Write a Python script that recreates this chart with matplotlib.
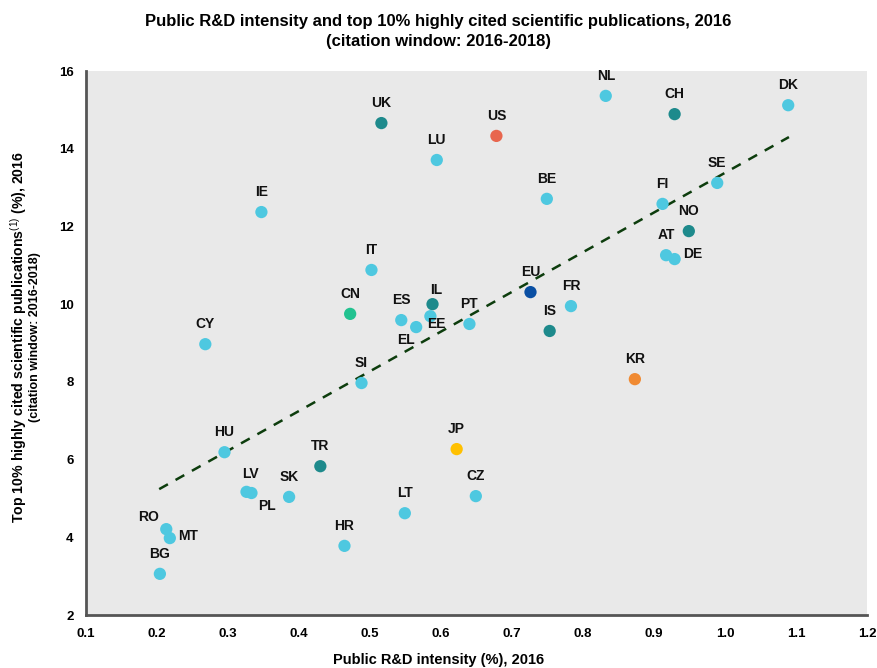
import numpy as np
import matplotlib
matplotlib.use('Agg')
import matplotlib.pyplot as plt

plt.rcParams['font.family'] = ['Liberation Sans', 'DejaVu Sans']
plt.rcParams['mathtext.fontset'] = 'custom'
plt.rcParams['mathtext.rm'] = 'Liberation Sans'

# country codes, public R&D intensity (%), top 10% cited pubs (%)
codes = ["NL", "CH", "DK", "UK", "US", "LU", "BE", "SE", "FI", "NO", "AT", "DE",
         "IE", "IT", "EU", "FR", "IS", "IL", "CN", "ES", "EE", "EL", "PT", "CY",
         "SI", "KR", "HU", "JP", "TR", "LV", "PL", "SK", "CZ", "LT", "HR", "RO",
         "MT", "BG"]
rd = [0.832, 0.929, 1.089, 0.516, 0.678, 0.594, 0.749, 0.989, 0.912, 0.949, 0.917, 0.929,
      0.347, 0.502, 0.726, 0.783, 0.753, 0.588, 0.472, 0.544, 0.585, 0.565, 0.640, 0.268,
      0.488, 0.873, 0.295, 0.622, 0.430, 0.326, 0.333, 0.386, 0.649, 0.549, 0.464, 0.213,
      0.218, 0.204]
top10 = [15.36, 14.89, 15.12, 14.66, 14.33, 13.71, 12.71, 13.12, 12.58, 11.88, 11.26, 11.16,
         12.37, 10.88, 10.31, 9.95, 9.31, 10.00, 9.75, 9.59, 9.69, 9.41, 9.49, 8.97,
         7.97, 8.07, 6.19, 6.27, 5.83, 5.17, 5.14, 5.04, 5.06, 4.62, 3.78, 4.21,
         3.98, 3.06]
group = ["eu", "oth", "eu", "oth", "us", "eu", "eu", "eu", "eu", "oth", "eu", "eu",
         "eu", "eu", "eu28", "eu", "oth", "oth", "cn", "eu", "eu", "eu", "eu", "eu",
         "eu", "kr", "eu", "jp", "oth", "eu", "eu", "eu", "eu", "eu", "eu", "eu",
         "eu", "eu"]

# trend line end points
trend_x = [0.203, 1.090]
trend_y = [5.24, 14.30]

colors = {"eu": "#4ec8e0", "oth": "#1e8a8c", "us": "#e8664e", "kr": "#f08a32",
          "jp": "#ffc000", "eu28": "#0a4fa3", "cn": "#22c290"}

# label offsets in pixels (default: centred above)
offsets = {"MT": (8, 2, 'left'), "PL": (15, -13, 'center'), "DE": (9, 5, 'left'),
           "EE": (6, -8, 'center'), "EL": (-10, -13, 'center'), "LV": (4, 18, 'center'),
           "RO": (-18, 12, 'center'), "IL": (4, 14, 'center')}

fig = plt.figure(figsize=(8.78, 6.68), dpi=100)
ax = fig.add_axes([0.098, 0.0793, 0.8895, 0.8144])
ax.set_facecolor('#e9e9e9')

ax.plot(trend_x, trend_y, ls=(0, (4, 3.5)), color='#0d3d0d', lw=1.8, zorder=2)
ax.scatter(rd, top10, s=78, c=[colors[g] for g in group], zorder=3, linewidths=0)

for c, x, y in zip(codes, rd, top10):
    dx, dy, ha = offsets.get(c, (0, 20, 'center'))
    ax.annotate(c, (x, y), xytext=(dx, dy), textcoords='offset pixels',
                ha=ha, va='center', fontsize=10, fontweight='bold', color='#111111')

ax.set_xlim(0.1, 1.2)
ax.set_ylim(2, 16)
ax.set_xticks(np.arange(0.1, 1.21, 0.1))
ax.set_xticklabels([f"{v:.1f}" for v in np.arange(0.1, 1.21, 0.1)])
ax.set_yticks(range(2, 17, 2))
ax.tick_params(length=0, labelsize=9.5, pad=9)
for lab in ax.get_xticklabels() + ax.get_yticklabels():
    lab.set_fontweight('bold')
for s in ['top', 'right']:
    ax.spines[s].set_visible(False)
for s in ['left', 'bottom']:
    ax.spines[s].set_color('#555555')
    ax.spines[s].set_linewidth(2)

fig.text(0.499, 0.953, "Public R&D intensity and top 10% highly cited scientific publications, 2016\n"
         "(citation window: 2016-2018)", ha='center', va='center', fontsize=12,
         fontweight='bold', linespacing=1.45)
fig.text(0.5, 0.012, "Public R&D intensity (%), 2016", ha='center', va='center',
         fontsize=10.5, fontweight='bold')
fig.text(0.021, 0.495, r"Top 10% highly cited scientific publications$^{(1)}$ (%), 2016",
         rotation=90, ha='center', va='center', fontsize=10.2, fontweight='bold')
fig.text(0.040, 0.495, "(citation window: 2016-2018)", rotation=90, ha='center',
         va='center', fontsize=9, fontweight='bold')

fig.savefig('out.png', dpi=100)
